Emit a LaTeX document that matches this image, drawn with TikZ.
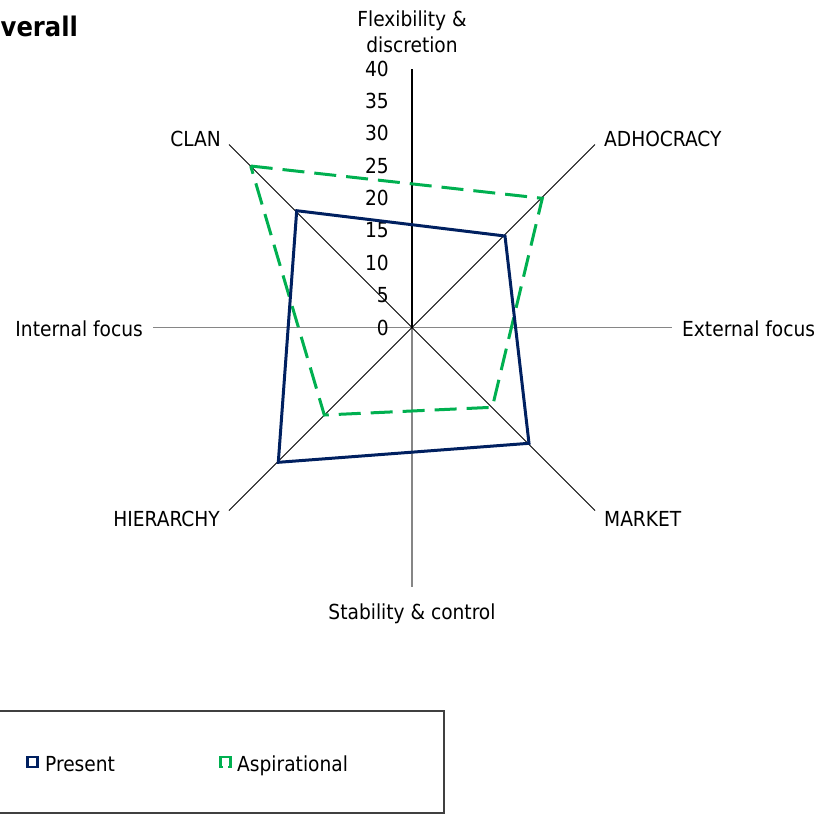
\documentclass[tikz,border=0pt]{standalone}
\usepackage{fontspec}
\setmainfont{DejaVu Sans Condensed}
\definecolor{presentblue}{RGB}{0,32,96}
\definecolor{aspgreen}{RGB}{0,176,80}
\definecolor{axisgray}{RGB}{134,134,134}
\definecolor{framegray}{RGB}{64,64,64}
\begin{document}
\begin{tikzpicture}[x=1pt,y=-1pt,
  lbl/.style={font=\fontsize{20.7}{25}\selectfont, inner sep=0pt},
  tick/.style={lbl, anchor=base east},
  valueaxis/.style={draw=black, line width=1.6pt},
  cataxis/.style={draw=axisgray, line width=1.4pt},
  diagaxis/.style={draw=black, line width=0.9pt},
  presentline/.style={draw=presentblue, line width=3pt, line join=miter},
  aspline/.style={draw=aspgreen, line width=3pt, dash pattern=on 22pt off 10pt},
  legendframe/.style={draw=framegray, line width=1.3pt}
]
\useasboundingbox (0,0) rectangle (817,815);

% title
\node[font=\fontsize{27}{32}\selectfont\bfseries, inner sep=0pt, anchor=base west] (title) at (0.5,36) {verall};

% centre and axis ends
\coordinate (O) at (412,327.5);
\coordinate (N) at (412,69);
\coordinate (S) at (412,587);
\coordinate (W) at (153,327.5);
\coordinate (E) at (672,327.5);
\coordinate (NW) at (229,144.5);
\coordinate (NE) at (595,144.5);
\coordinate (SE) at (595,510.5);
\coordinate (SW) at (229,510.5);

% category axes
\draw[cataxis] (W) -- (E);
\draw[cataxis] (O) -- (S);
\draw[diagaxis] (NW) -- (SE);
\draw[diagaxis] (NE) -- (SW);
% value axis
\draw[valueaxis] (O) -- (N);

% value axis labels
\foreach \v in {0,5,...,40}{
  \node[tick] (t\v) at (389, {327.5 - \v*6.475 + 7.5}) {\v};
}

% series points
\coordinate (pC) at (296.7,210.7);
\coordinate (pA) at (505,236);
\coordinate (pM) at (529,443.3);
\coordinate (pH) at (278.3,462.3);
\coordinate (aC) at (250.7,166);
\coordinate (aA) at (542.3,198.3);
\coordinate (aM) at (492.3,407.3);
\coordinate (aH) at (324.3,415);

\draw[aspline] (aC) -- (aA) -- (aM) -- (aH) -- cycle;
\draw[presentline] (pC) -- (pA) -- (pM) -- (pH) -- cycle;

% category labels
\node[lbl, anchor=base] (flex) at (412,26) {Flexibility \&};
\node[lbl, anchor=base] (disc) at (412,52) {discretion};
\node[lbl, anchor=base] (stab) at (412,619) {Stability \& control};
\node[lbl, anchor=base east] (intf) at (143,336) {Internal focus};
\node[lbl, anchor=base west] (extf) at (682,336) {External focus};
\node[lbl, anchor=base east] (clan) at (221,146) {CLAN};
\node[lbl, anchor=base west] (adho) at (604,146) {ADHOCRACY};
\node[lbl, anchor=base east] (hier) at (220,526) {HIERARCHY};
\node[lbl, anchor=base west] (mark) at (604,526) {MARKET};

% legend
\draw[legendframe] (-5,711) rectangle (444,813);
\draw[draw=presentblue, line width=2.6pt] (27.5,757) rectangle (37.5,767);
\node[lbl, anchor=base west] (legP) at (45,771) {Present};
\draw[draw=aspgreen, line width=2.6pt] (223,767) -- (220.5,767) -- (220.5,757) -- (230.5,757) -- (230.5,767) -- (228,767);
\node[lbl, anchor=base west] (legA) at (237,771) {Aspirational};
\end{tikzpicture}
\end{document}
